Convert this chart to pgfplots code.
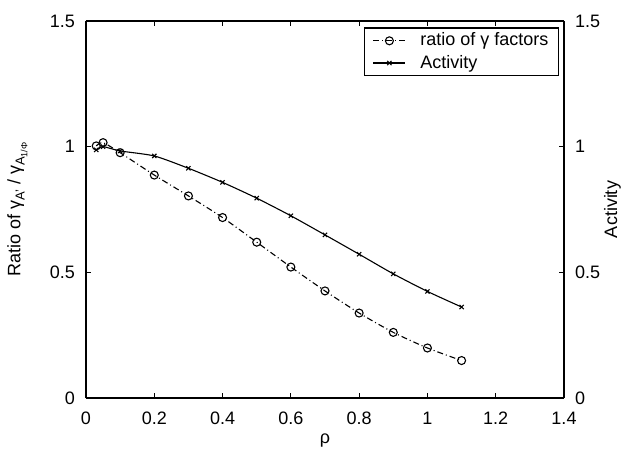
\documentclass[border=0pt]{standalone}
\usepackage{pgfplots}
\pgfplotsset{compat=1.18}
\usepackage{fontspec}
\setmainfont{Liberation Sans}
\newcommand{\sub}[1]{\raisebox{-0.45ex}{\fontsize{13bp}{15bp}\selectfont #1}}
\newcommand{\subsub}[1]{\raisebox{-0.4ex}{\fontsize{9bp}{10bp}\selectfont #1}}
\pgfplotsset{
  common/.style={
    at={(0,0)}, anchor=south west,
    scale only axis,
    width=478bp, height=377bp,
    xmin=0, xmax=1.4, ymin=0, ymax=1.5,
    tick align=inside, major tick length=5bp,
    axis line style={line width=1.6bp},
    tick style={line width=1.1bp, black},
    tick label style={font=\fontsize{18bp}{20bp}\selectfont},
    label style={font=\fontsize{18bp}{20bp}\selectfont},
    /pgf/number format/assume math mode=true,
    ytick={0,0.5,1,1.5}, yticklabels={0,0.5,1,1.5},
  }
}
\begin{document}
\fontsize{18bp}{20bp}\selectfont
\begin{tikzpicture}
\useasboundingbox (-86bp,-51bp) rectangle (535bp,398bp);
\begin{axis}[
  common,
  xtick={0,0.2,...,1.4},
  xticklabels={0,0.2,0.4,0.6,0.8,1,1.2,1.4},
  axis y line*=left,
  axis x line*=box,
  every axis plot/.append style={line width=1.1bp},
  xlabel={ρ}, ylabel={Ratio of γ\sub{A'} / γ\sub{A\subsub{1/Φ}}},
  xlabel style={at={(axis description cs:0.5,-0.114)}, anchor=center},
  ylabel style={at={(axis description cs:-0.1433,0.5)}, anchor=center},
  xticklabel style={yshift=-8bp},
  yticklabel style={xshift=-5bp},
  legend style={at={(rel axis cs:0.9895,0.983)}, anchor=north east, draw=black, line width=1.1bp,
    font=\fontsize{18bp}{20bp}\selectfont, inner xsep=8bp, inner ysep=3bp, row sep=2.5bp,
    cells={inner xsep=0bp, inner ysep=1.5bp}},
  legend cell align=left,
  legend image code/.code={
    \path[draw=none, mark=none] (0bp,0bp) -- (45bp,0bp);
    \draw[#1] (0bp,0bp) -- (31.6bp,0bp);
    \draw[#1, solid] plot coordinates {(16bp,0bp)};},
]
\addplot[black, dash pattern=on 6bp off 3bp on 1bp off 3bp, smooth, tension=0.4, mark=o, mark size=4bp, mark options={solid, line width=1.1bp}] coordinates {
(0.03,1.003)(0.05,1.016)(0.1,0.976)(0.2,0.887)(0.3,0.804)(0.4,0.718)(0.5,0.62)(0.6,0.521)(0.7,0.426)(0.8,0.338)(0.9,0.261)(1.0,0.199)(1.1,0.149)};
\addlegendentry{ratio of γ factors}
\addplot[black, solid, smooth, tension=0.4, mark=x, mark size=3bp, mark options={solid, line width=1.1bp}] coordinates {
(0.03,0.987)(0.05,1.0)(0.1,0.983)(0.2,0.963)(0.3,0.914)(0.4,0.858)(0.5,0.795)(0.6,0.725)(0.7,0.649)(0.8,0.572)(0.9,0.494)(1.0,0.424)(1.1,0.362)};
\addlegendentry{Activity}
\end{axis}
\begin{axis}[
  common,
  axis y line*=right, axis x line=none,
  ylabel={Activity},
  ylabel style={at={(axis description cs:1.1015,0.5)}, anchor=center},
  yticklabel style={xshift=5bp},
]
\addplot[draw=none] coordinates {(0,0)};
\end{axis}
\end{tikzpicture}
\end{document}
